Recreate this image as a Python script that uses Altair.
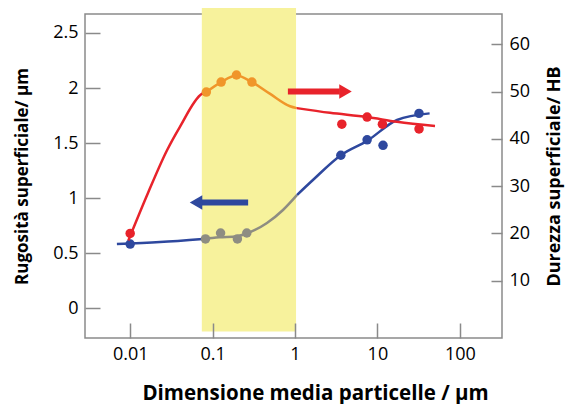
import altair as alt
import pandas as pd

# ---- measured points ----
red_x = [0.01, 3.7, 7.5, 11.5, 32]
red_y = [20, 43.1, 44.6, 43.1, 42.1]
orange_x = [0.084, 0.127, 0.195, 0.3]
orange_y = [49.9, 52.0, 53.5, 52.0]
blue_x = [0.01, 3.6, 7.5, 11.7, 32]
blue_y = [0.584, 1.39, 1.53, 1.48, 1.77]
gray_x = [0.082, 0.125, 0.2, 0.26]
gray_y = [0.63, 0.684, 0.63, 0.684]

# ---- fitted curves ----
red_c1_x = [0.0095, 0.0164, 0.028, 0.040, 0.074, 0.084]
red_c1_y = [18.5, 28.5, 37.6, 42.5, 49.5, 49.9]
orange_c_x = [0.084, 0.127, 0.195, 0.3, 0.5, 0.87, 1.05]
orange_c_y = [49.9, 52.0, 53.4, 52.0, 49.5, 46.9, 46.5]
red_c2_x = [1.05, 2.66, 7.5, 17.3, 50]
red_c2_y = [46.5, 45.5, 44.6, 43.6, 42.7]
blue_c1_x = [0.0069, 0.023, 0.076]
blue_c1_y = [0.584, 0.602, 0.63]
gray_c_x = [0.076, 0.12, 0.2, 0.26, 0.457, 0.715, 1.06]
gray_c_y = [0.63, 0.645, 0.655, 0.68, 0.775, 0.893, 1.03]
blue_c2_x = [1.06, 1.65, 3.6, 7.5, 17.3, 43]
blue_c2_y = [1.03, 1.165, 1.39, 1.52, 1.71, 1.77]

# ---- highlighted band and arrows (data units) ----
band = dict(x=[0.074], x2=[1.03], y=[-0.21], y2=[2.75])
red_arrow = dict(x=[0.82], x2=[3.5], y=[50], head=[4.1])
blue_arrow = dict(x=[0.27], x2=[0.072], y=[0.96], head=[0.063])

x_ticks = [0.01, 0.1, 1, 10, 100]
yl_ticks = [0, 0.5, 1, 1.5, 2, 2.5]
yr_ticks = [10, 20, 30, 40, 50, 60]

RED = "#E8232B"
ORANGE = "#F0962A"
BLUE = "#2E489E"
GRAY = "#8E8D82"
BAND = "#F7F29C"
AX = "#8A8A8A"

xs = alt.Scale(type="log", domain=[0.00283, 325], nice=False)
yls = alt.Scale(domain=[-0.269, 2.672], nice=False, zero=False)
yrs = alt.Scale(domain=[-2.11, 66.4], nice=False, zero=False)

x_axis = alt.Axis(values=x_ticks, format="~g", offset=-15, tickSize=15, domain=False,
                  grid=False, labelPadding=7, title="Dimensione media particelle / µm",
                  titlePadding=20, titleX=230, titleFontSize=20.5, zindex=1)
yl_axis = alt.Axis(values=yl_ticks, format="~g", offset=-15, tickSize=15, domain=False,
                   grid=False, labelPadding=7, title="Rugosità superficiale/ µm",
                   titlePadding=21, titleFontSize=17, zindex=1)
yr_axis = alt.Axis(values=yr_ticks, format="d", offset=-11, tickSize=11, domain=False,
                   grid=False, labelPadding=7, title="Durezza superficiale/ HB",
                   titlePadding=34, orient="right", titleAngle=270, titleFontSize=18,
                   zindex=1)

X = alt.X("x:Q", scale=xs, axis=x_axis)


def line(xv, yv, color, yscale, yaxis):
    df = pd.DataFrame({"x": xv, "y": yv})
    return alt.Chart(df).mark_line(color=color, strokeWidth=2.5, interpolate="monotone").encode(
        x=X, y=alt.Y("y:Q", scale=yscale, axis=yaxis))


def pts(xv, yv, color, yscale, yaxis):
    df = pd.DataFrame({"x": xv, "y": yv})
    return alt.Chart(df).mark_circle(color=color, size=90, opacity=1).encode(
        x=X, y=alt.Y("y:Q", scale=yscale, axis=yaxis))


def arrow(a, color, shape, yscale, yaxis):
    df = pd.DataFrame(a)
    body = alt.Chart(df).mark_rule(color=color, strokeWidth=6).encode(
        x=X, x2="x2:Q", y=alt.Y("y:Q", scale=yscale, axis=yaxis))
    head = alt.Chart(df).mark_point(shape=shape, filled=True, size=210, color=color,
                                    opacity=1, strokeWidth=0).encode(
        x=alt.X("head:Q", scale=xs, axis=x_axis), y=alt.Y("y:Q", scale=yscale, axis=yaxis))
    return body + head


band_layer = alt.Chart(pd.DataFrame(band)).mark_rect(color=BAND, clip=False).encode(
    x=X, x2="x2:Q", y=alt.Y("y:Q", scale=yls, axis=yl_axis), y2="y2:Q")

left = alt.layer(
    band_layer,
    line(blue_c1_x, blue_c1_y, BLUE, yls, yl_axis),
    line(gray_c_x, gray_c_y, GRAY, yls, yl_axis),
    line(blue_c2_x, blue_c2_y, BLUE, yls, yl_axis),
    arrow(blue_arrow, BLUE, "triangle-left", yls, yl_axis),
    pts(blue_x, blue_y, BLUE, yls, yl_axis),
    pts(gray_x, gray_y, GRAY, yls, yl_axis),
)

right = alt.layer(
    line(red_c1_x, red_c1_y, RED, yrs, yr_axis),
    line(orange_c_x, orange_c_y, ORANGE, yrs, yr_axis),
    line(red_c2_x, red_c2_y, RED, yrs, yr_axis),
    arrow(red_arrow, RED, "triangle-right", yrs, yr_axis),
    pts(red_x, red_y, RED, yrs, yr_axis),
    pts(orange_x, orange_y, ORANGE, yrs, yr_axis),
)

chart = alt.layer(left, right).resolve_scale(y="independent").properties(
    width=417, height=324,
    autosize=alt.AutoSizeParams(type="none"),
    padding={"left": 77, "top": 6, "right": 65, "bottom": 66},
).configure_view(stroke=AX, strokeWidth=1.5).configure_axis(
    labelFont="Open Sans", labelFontSize=18, labelColor="#000000",
    titleFont="Open Sans", titleFontWeight="bold", titleColor="#000000",
    tickColor=AX, tickWidth=1.5,
)

chart.save("out.html", embed_options={"renderer": "svg", "actions": False})
